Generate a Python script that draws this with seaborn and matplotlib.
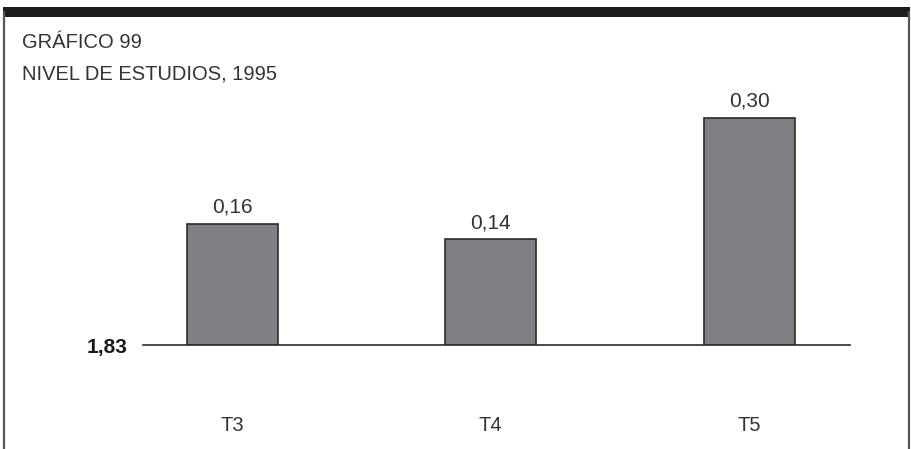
import matplotlib
matplotlib.use("Agg")
import matplotlib.pyplot as plt
from matplotlib.patches import Rectangle
from matplotlib.lines import Line2D
import seaborn as sns
import pandas as pd

# =============================================================================
# data
# =============================================================================
categories = ["T3", "T4", "T5"]
values = [0.16, 0.14, 0.30]
value_labels = ["0,16", "0,14", "0,30"]
baseline_label = "1,83"
title_lines = ["GRÁFICO 99", "NIVEL DE ESTUDIOS, 1995"]

TEXT_COLOR = "#333333"
BAR_COLOR = "#808084"
EDGE_COLOR = "#2b2b2b"
FONT_SIZE = 14.5

sns.set_theme(style="white")
plt.rcParams["font.family"] = ["Liberation Sans", "DejaVu Sans"]

W, H = 911, 449
fig = plt.figure(figsize=(W / 100, H / 100), dpi=100)

# frame: thick top bar + thin side lines
fig.add_artist(Rectangle((3 / W, 1 - 17 / H), 907 / W, 10 / H,
                         transform=fig.transFigure, facecolor="#1e1c1c",
                         edgecolor="none"))
for xpx in (4, 908.5):
    fig.add_artist(Line2D([xpx / W, xpx / W], [0, 1 - 12 / H],
                          transform=fig.transFigure, color="#555555", lw=1.6))

# titles
fig.text(22 / W, 1 - 47.5 / H, title_lines[0], fontsize=FONT_SIZE,
         color=TEXT_COLOR, va="baseline", ha="left")
fig.text(22 / W, 1 - 79 / H, title_lines[1], fontsize=FONT_SIZE,
         color=TEXT_COLOR, va="baseline", ha="left")

# axes placed so the baseline sits where the reference has it
ymax = 0.33
px_per_unit = 757
ax = fig.add_axes([143 / W, 1 - 345 / H, 707 / W, ymax * px_per_unit / H])

df = pd.DataFrame({"cat": categories, "val": values})
sns.barplot(data=df, x="cat", y="val", color=BAR_COLOR, width=0.352,
            edgecolor=EDGE_COLOR, linewidth=1.2, saturation=1, ax=ax)

ax.set_xlim(-0.345, 2.39)
ax.set_ylim(0, ymax)
ax.set_xlabel("")
ax.set_ylabel("")

ax.bar_label(ax.containers[0], labels=value_labels, padding=5,
             fontsize=15, color=TEXT_COLOR)

for side in ("top", "right", "left"):
    ax.spines[side].set_visible(False)
ax.spines["bottom"].set_color(EDGE_COLOR)
ax.spines["bottom"].set_linewidth(1.2)

ax.set_yticks([0])
ax.set_yticklabels([baseline_label], fontsize=15, fontweight="bold",
                   color="#1a1a1a")
ax.tick_params(axis="y", length=0, pad=11)
ax.tick_params(axis="x", length=0, pad=51, labelsize=FONT_SIZE,
               labelcolor=TEXT_COLOR)
ax.grid(False)
ax.patch.set_alpha(0)

plt.savefig("out.png", dpi=100)
